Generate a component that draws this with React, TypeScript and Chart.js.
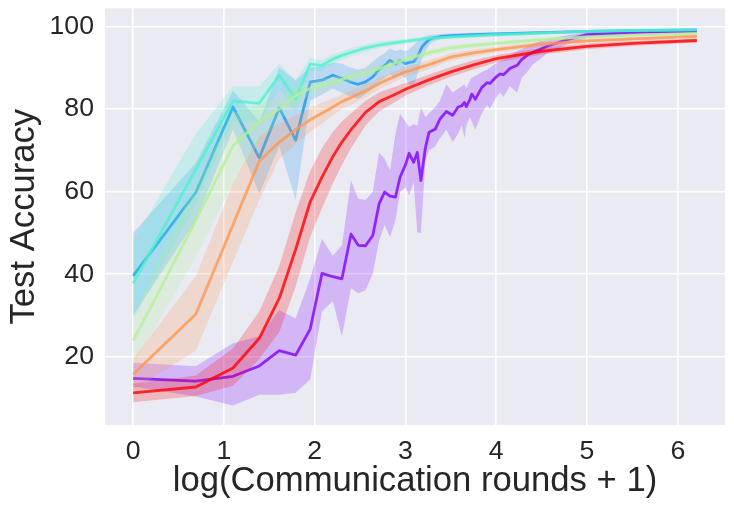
import React, { useEffect, useRef } from "react";
import { Chart, registerables } from "chart.js";

Chart.register(...registerables);

// x positions = log(communication rounds + 1)
const smoothX = [0, 0.69, 1.1, 1.39, 1.61, 1.79, 1.95, 2.08, 2.2, 2.3, 2.4, 2.56, 2.71, 2.83, 3.0, 3.25, 3.5, 3.75, 4.0, 4.5, 5.0, 5.5, 6.21];

const redY = [11.3, 12.7, 17.3, 24.5, 34.2, 46, 57.5, 63.5, 68.5, 72, 75, 79.2, 81.8, 83, 84.8, 87, 89, 90.7, 92.2, 94, 95.2, 95.9, 96.6];
const redLo = [9, 10.5, 13, 19.5, 26, 37, 49, 56, 62, 66.5, 70.5, 76, 79.5, 81, 83.3, 85.7, 87.8, 89.6, 91.3, 93.2, 94.5, 95.3, 96.1];
const redHi = [13.5, 15.5, 22, 31, 42, 55, 65, 70.5, 74.5, 77, 79, 82, 84, 85, 86.3, 88.3, 90.2, 91.8, 93.1, 94.8, 95.9, 96.5, 97.1];

const orangeY = [15.8, 30.3, 52, 67.4, 72, 75, 77.4, 79, 80.5, 81.8, 82.8, 84.4, 86.2, 87.4, 89, 90.7, 92.6, 93.6, 94.4, 95.7, 96.5, 97, 97.6];
const orangeLo = [12, 21.5, 43, 58, 68, 71.5, 74.5, 76.5, 78.5, 80, 81, 82.8, 84.8, 86.1, 87.8, 89.6, 91.7, 92.8, 93.7, 95.1, 96, 96.6, 97.2];
const orangeHi = [19.5, 39.5, 62, 73.5, 76.5, 78.5, 80.3, 81.5, 82.5, 83.5, 84.5, 86, 87.6, 88.7, 90.2, 91.8, 93.5, 94.4, 95.1, 96.3, 97, 97.4, 98];

const greenY = [23.9, 53, 71.1, 77, 80, 83.3, 85, 85.8, 86.5, 87.2, 87.8, 88.8, 89.8, 90.7, 92, 93.6, 94.8, 95.4, 95.9, 96.8, 97.5, 97.9, 98.3];
const greenLo = [18, 44, 62, 72, 77, 81, 83.3, 84.3, 85.2, 86, 86.6, 87.7, 88.8, 89.7, 91.1, 92.8, 94.1, 94.8, 95.4, 96.3, 97.1, 97.5, 98];
const greenHi = [30, 62, 79, 81, 83, 85.5, 86.7, 87.3, 87.8, 88.4, 89, 89.9, 90.8, 91.7, 92.9, 94.4, 95.5, 96, 96.4, 97.3, 97.9, 98.3, 98.6];

const cyanY = [37.8, 65.4, 82, 81.4, 88.2, 82.5, 90.9, 90.6, 92.1, 93, 93.7, 94.8, 95.5, 95.9, 96.4, 97.1, 97.4, 97.7, 98, 98.4, 98.8, 99, 99.2];
const cyanLo = [29, 57, 77, 77, 85, 79, 89.3, 89.3, 91, 91.9, 92.7, 93.9, 94.7, 95.2, 95.8, 96.6, 97, 97.3, 97.6, 98.1, 98.5, 98.7, 98.9];
const cyanHi = [48, 74, 85.5, 85.5, 91, 87, 92.5, 91.8, 93.2, 94, 94.7, 95.7, 96.3, 96.6, 97, 97.6, 97.8, 98.1, 98.4, 98.7, 99.1, 99.3, 99.5];

const blueX = [0, 0.69, 1.1, 1.39, 1.61, 1.79, 1.95, 2.08, 2.2, 2.3, 2.4, 2.48, 2.56, 2.64, 2.71, 2.77, 2.83, 2.89, 2.94, 3.0, 3.04, 3.09, 3.14, 3.18, 3.22, 3.26, 3.3, 3.4, 3.5, 3.75, 4.0, 4.5, 5.0, 5.5, 6.21];
const blueY = [39.6, 59.8, 80.5, 68.2, 80.3, 72.5, 86.5, 87.0, 88.2, 87.4, 86.5, 86.0, 86.6, 87.8, 89.6, 90.6, 91.8, 90.9, 91.8, 91.0, 91.3, 91.5, 93.0, 95.0, 96.0, 96.8, 97.2, 97.6, 97.8, 98.0, 98.2, 98.5, 98.8, 99.0, 99.2];
const blueLo = [30, 53, 75, 59.5, 71, 58, 82, 83.5, 85, 84, 83, 82.5, 83.5, 85, 86.5, 87.5, 88.5, 87.5, 88.5, 87.5, 86, 85.5, 89, 92, 94, 95.5, 96.3, 97, 97.3, 97.5, 97.8, 98.2, 98.5, 98.8, 99.0];
const blueHi = [50, 67, 84.5, 77, 90, 87, 90, 90.5, 91.3, 91, 90, 89.5, 90, 91.5, 92.7, 93.5, 94.7, 94, 94.5, 94, 94.5, 95.5, 96.5, 97.3, 97.6, 97.9, 98, 98.2, 98.3, 98.5, 98.6, 98.8, 99.1, 99.2, 99.4];

const purpleX = [0, 0.69, 1.1, 1.39, 1.61, 1.79, 1.95, 2.08, 2.2, 2.3, 2.4, 2.48, 2.56, 2.64, 2.71, 2.77, 2.83, 2.89, 2.94, 3.0, 3.04, 3.09, 3.13, 3.17, 3.22, 3.26, 3.33, 3.38, 3.45, 3.52, 3.58, 3.62, 3.65, 3.67, 3.71, 3.73, 3.77, 3.84, 3.9, 3.93, 3.99, 4.04, 4.08, 4.15, 4.23, 4.28, 4.34, 4.41, 4.48, 4.56, 4.67, 4.78, 5.0, 5.5, 6.21];
const purpleY = [14.8, 14.1, 15.3, 17.8, 21.5, 20.4, 26.7, 40.2, 39.4, 38.9, 49.7, 47.0, 46.9, 49.4, 57.1, 59.9, 58.9, 58.7, 63.5, 66.5, 69.3, 67.1, 69.5, 62.7, 70.7, 74.4, 75.2, 77.6, 79.4, 78.5, 80.5, 80.8, 81.6, 80.6, 82.3, 83.6, 82.4, 85.2, 86.4, 86.2, 87.6, 88.5, 88.3, 89.8, 90.6, 92.0, 93.0, 93.8, 94.4, 95.2, 96.0, 96.8, 98.0, 98.5, 98.8];
const purpleLo = [12.8, 10.4, 8.2, 10.8, 10.8, 11.3, 14.5, 31, 33.5, 25, 36.6, 35.4, 36.1, 40.2, 48.2, 51.9, 49, 53, 59.9, 61, 59.1, 62.3, 50.2, 50, 67.5, 70, 71, 73, 75, 72, 74, 76, 73, 76, 78, 77, 75, 79, 81, 80, 82.5, 84, 83, 85.5, 84, 87.5, 89, 91, 92, 93.5, 94.5, 95.7, 97.2, 97.9, 98.4];
const purpleHi = [18.6, 17.7, 23.3, 25, 31.3, 29.3, 39, 48.6, 44.5, 47, 62.7, 58.3, 58, 60, 69.5, 68, 65.1, 74, 78.8, 77, 75.6, 76.4, 76, 80.4, 78, 79, 80.5, 82, 86, 84, 85, 85.5, 86, 85, 87, 87.5, 88, 89, 89.5, 90, 91, 91.5, 92, 93, 94, 94.5, 95.2, 95.8, 96.4, 96.8, 97.4, 97.9, 98.6, 99, 99.2];

const xTicks = [0, 1, 2, 3, 4, 5, 6];
const yTicks = [20, 40, 60, 80, 100];
const xLabel = "log(Communication rounds + 1)";
const yLabel = "Test Accuracy";

// topmost series first
const series = [
  { rgb: "255,0,0", x: smoothX, y: redY, lo: redLo, hi: redHi },
  { rgb: "255,150,79", x: smoothX, y: orangeY, lo: orangeLo, hi: orangeHi },
  { rgb: "179,243,150", x: smoothX, y: greenY, lo: greenLo, hi: greenHi },
  { rgb: "77,243,206", x: smoothX, y: cyanY, lo: cyanLo, hi: cyanHi },
  { rgb: "25,150,242", x: blueX, y: blueY, lo: blueLo, hi: blueHi },
  { rgb: "128,0,255", x: purpleX, y: purpleY, lo: purpleLo, hi: purpleHi },
];

const pts = (xs: number[], ys: number[]) => xs.map((x, i) => ({ x, y: ys[i] }));

const FONT = "'Liberation Sans', Arial, sans-serif";
const TEXT = "#262626";

const bgPlugin = {
  id: "plotBg",
  beforeDraw(chart: any) {
    const { ctx, chartArea } = chart;
    if (!chartArea) return;
    ctx.save();
    ctx.fillStyle = "#eaeaf2";
    ctx.fillRect(chartArea.left, chartArea.top, chartArea.right - chartArea.left, chartArea.bottom - chartArea.top);
    ctx.restore();
  },
};

export default function App() {
  const ref = useRef<HTMLCanvasElement | null>(null);

  useEffect(() => {
    if (!ref.current) return;
    const datasets: any[] = [];
    series.forEach((s) => {
      datasets.push({
        data: pts(s.x, s.y),
        borderColor: `rgba(${s.rgb},0.8)`,
        borderWidth: 2.8,
        borderJoinStyle: "round",
        pointRadius: 0,
        pointHoverRadius: 0,
        tension: 0,
        fill: false,
      });
      datasets.push({
        data: pts(s.x, s.hi),
        borderColor: "rgba(0,0,0,0)",
        borderWidth: 0,
        backgroundColor: `rgba(${s.rgb},0.22)`,
        pointRadius: 0,
        pointHoverRadius: 0,
        tension: 0,
        fill: "+1",
      });
      datasets.push({
        data: pts(s.x, s.lo),
        borderColor: "rgba(0,0,0,0)",
        borderWidth: 0,
        pointRadius: 0,
        pointHoverRadius: 0,
        tension: 0,
        fill: false,
      });
    });

    const chart = new Chart(ref.current, {
      type: "line",
      data: { datasets },
      plugins: [bgPlugin],
      options: {
        animation: false,
        responsive: false,
        events: [],
        layout: { padding: { top: 8.3, right: 9, left: 0, bottom: 0 } },
        plugins: { legend: { display: false }, tooltip: { enabled: false } },
        scales: {
          x: {
            type: "linear",
            min: -0.31,
            max: 6.52,
            afterBuildTicks: (s: any) => {
              s.ticks = xTicks.map((v) => ({ value: v }));
            },
            afterFit: (s: any) => {
              s.height = 84;
              s.paddingLeft = 0;
              s.paddingRight = 0;
            },
            ticks: {
              font: { family: FONT, size: 26.67 },
              color: TEXT,
              padding: 10.5,
              maxRotation: 0,
              autoSkip: false,
              callback: (v: any) => String(v),
            },
            grid: { color: "#ffffff", lineWidth: 1.6, drawTicks: false },
            border: { display: false },
            title: {
              display: true,
              text: xLabel,
              font: { family: FONT, size: 34.67 },
              color: TEXT,
              padding: { top: 0, bottom: 7 },
            },
          },
          y: {
            type: "linear",
            min: 3.5,
            max: 104.4,
            afterBuildTicks: (s: any) => {
              s.ticks = yTicks.map((v) => ({ value: v }));
            },
            afterFit: (s: any) => {
              s.width = 105;
              s.paddingTop = 0;
              s.paddingBottom = 0;
            },
            ticks: {
              font: { family: FONT, size: 26.67 },
              color: TEXT,
              padding: 11,
              autoSkip: false,
              callback: (v: any) => String(v),
            },
            grid: { color: "#ffffff", lineWidth: 1.6, drawTicks: false },
            border: { display: false },
            title: {
              display: true,
              text: yLabel,
              font: { family: FONT, size: 34.67 },
              color: TEXT,
              padding: { top: 4, bottom: 0 },
            },
          },
        },
      } as any,
    });
    return () => chart.destroy();
  }, []);

  return (
    <div style={{ position: "fixed", left: 0, top: 0, width: 734, height: 509, background: "#ffffff" }}>
      <canvas ref={ref} width={734} height={509} style={{ width: 734, height: 509, display: "block" }} />
    </div>
  );
}
